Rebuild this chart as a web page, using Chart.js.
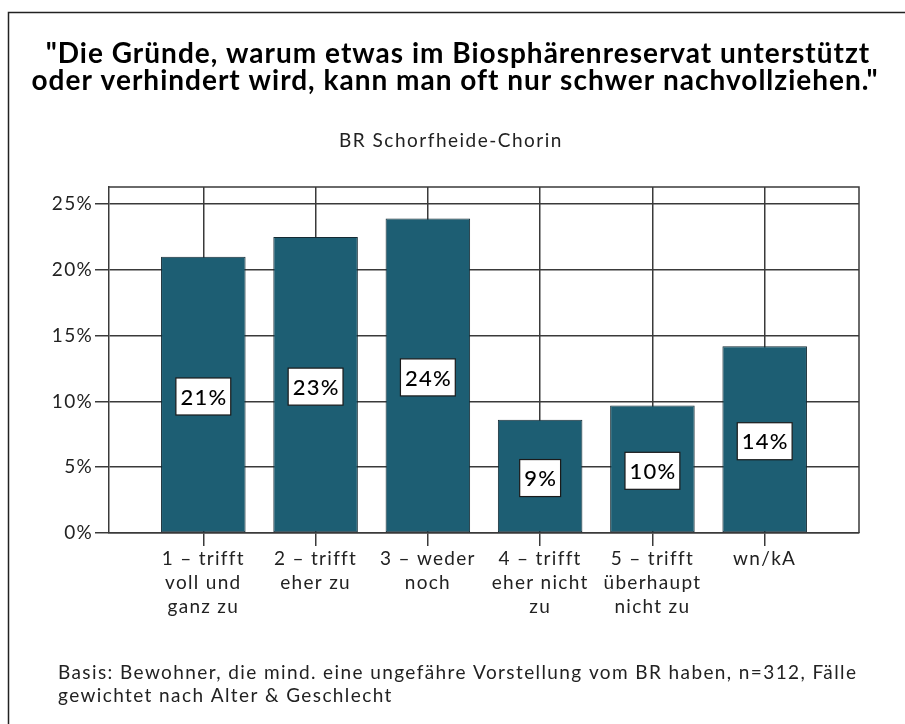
<!DOCTYPE html>
<html>
<head>
<meta charset="utf-8">
<script src="https://cdn.jsdelivr.net/npm/chart.js@4.4.1/dist/chart.umd.min.js"></script>
<style>
  html, body { margin: 0; padding: 0; background: #ffffff; }
  #wrap { width: 905px; height: 724px; position: relative; }
</style>
</head>
<body>
<div id="wrap"><canvas id="c" width="905" height="724"></canvas></div>
<script>
// ---- data ----
const titleLines = ['"Die Gründe, warum etwas im Biosphärenreservat unterstützt', 'oder verhindert wird, kann man oft nur schwer nachvollziehen."'];
const subtitleText = 'BR Schorfheide-Chorin';
const footerLines = ['Basis: Bewohner, die mind. eine ungefähre Vorstellung vom BR haben, n=312, Fälle', 'gewichtet nach Alter & Geschlecht'];
const categories = [
  ['1 – trifft', 'voll und', 'ganz zu'],
  ['2 – trifft', 'eher zu'],
  ['3 – weder', 'noch'],
  ['4 – trifft', 'eher nicht', 'zu'],
  ['5 – trifft', 'überhaupt', 'nicht zu'],
  ['wn/kA']
];
const values = [21.0, 22.5, 23.9, 8.6, 9.7, 14.2];
const valueLabels = ['21%', '23%', '24%', '9%', '10%', '14%'];
const yTicks = [0, 5, 10, 15, 20, 25];

const FONT = 'Lato, "Open Sans", sans-serif';
const INK = '#222222';
const GRID = '#3a3a3a';
const BAR = '#1d5e73';

const textPlugin = {
  id: 'texts',
  beforeInit(chart) {
    chart.ctx.letterSpacing = '1.3px';
  },
  beforeDraw(chart) {
    const ctx = chart.ctx;
    ctx.letterSpacing = '1.3px';
    ctx.save();
    ctx.fillStyle = '#ffffff';
    ctx.fillRect(0, 0, chart.width, chart.height);
    // outer frame (left & top edges visible)
    ctx.strokeStyle = '#222';
    ctx.lineWidth = 1.5;
    ctx.beginPath();
    ctx.moveTo(8.5, 724);
    ctx.lineTo(8.5, 12.5);
    ctx.lineTo(905, 12.5);
    ctx.stroke();
    // title
    ctx.fillStyle = '#000';
    ctx.textAlign = 'center';
    ctx.textBaseline = 'alphabetic';
    ctx.letterSpacing = '1px';
    ctx.font = 'bold 28px ' + FONT;
    ctx.fillText(titleLines[0], 458, 63);
    ctx.fillText(titleLines[1], 455, 90);
    // subtitle
    ctx.letterSpacing = '1.5px';
    ctx.fillStyle = INK;
    ctx.font = '19px ' + FONT;
    ctx.fillText(subtitleText, 451, 147);
    // footer
    ctx.letterSpacing = '1.4px';
    ctx.textAlign = 'left';
    ctx.font = '19px ' + FONT;
    ctx.fillText(footerLines[0], 58, 679);
    ctx.fillText(footerLines[1], 58, 702);
    ctx.restore();
  },
  afterDatasetsDraw(chart) {
    const ctx = chart.ctx;
    const a = chart.chartArea;
    ctx.save();
    // top and right plot frame
    ctx.strokeStyle = GRID;
    ctx.lineWidth = 1.5;
    ctx.beginPath();
    ctx.moveTo(a.left, a.top);
    ctx.lineTo(a.right, a.top);
    ctx.lineTo(a.right, a.bottom);
    ctx.stroke();
    // value boxes
    const meta = chart.getDatasetMeta(0);
    ctx.letterSpacing = '1.2px';
    ctx.font = '500 22px ' + FONT;
    ctx.textAlign = 'center';
    ctx.textBaseline = 'middle';
    meta.data.forEach((bar, i) => {
      const txt = valueLabels[i];
      const w = ctx.measureText(txt).width + 8;
      const h = 37;
      const cx = bar.x;
      const cy = (bar.y + bar.base) / 2 + 2;
      ctx.fillStyle = '#ffffff';
      ctx.fillRect(cx - w / 2, cy - h / 2, w, h);
      ctx.strokeStyle = '#1a1a1a';
      ctx.lineWidth = 1.2;
      ctx.strokeRect(cx - w / 2, cy - h / 2, w, h);
      ctx.fillStyle = '#000';
      ctx.fillText(txt, cx + 0.6, cy + 1);
    });
    ctx.restore();
  }
};

new Chart(document.getElementById('c'), {
  type: 'bar',
  data: {
    datasets: [{
      data: values.map((v, i) => ({ x: i, y: v })),
      backgroundColor: BAR,
      borderColor: '#142a33',
      borderWidth: 1,
      borderSkipped: false,
      categoryPercentage: 1.0,
      barPercentage: 0.753
    }]
  },
  options: {
    responsive: false,
    animation: false,
    devicePixelRatio: 1,
    layout: { padding: { top: 187, right: 46, bottom: 91, left: 0 } },
    plugins: { legend: { display: false }, tooltip: { enabled: false } },
    scales: {
      x: {
        type: 'linear',
        offset: false,
        min: -0.84,
        max: 5.84,
        afterBuildTicks: s => { s.ticks = categories.map((c, i) => ({ value: i })); },
        afterFit: s => { s.height = 100; },
        ticks: {
          autoSkip: false,
          maxRotation: 0,
          padding: 1,
          color: INK,
          font: { family: FONT, size: 19, lineHeight: 1.26 },
          callback: v => categories[v]
        },
        grid: { offset: false, color: GRID, lineWidth: 1.5, tickLength: 13, drawTicks: true },
        border: { display: true, color: GRID, width: 1.5 }
      },
      y: {
        min: 0,
        max: 26.3,
        afterBuildTicks: s => { s.ticks = yTicks.map(v => ({ value: v })); },
        afterFit: s => { s.width = 109; },
        ticks: {
          padding: 2,
          color: INK,
          font: { family: FONT, size: 19 },
          callback: v => v + '%'
        },
        grid: { color: GRID, lineWidth: 1.5, tickLength: 14, drawTicks: true },
        border: { display: true, color: GRID, width: 1.5 }
      }
    }
  },
  plugins: [textPlugin]
});
</script>
</body>
</html>
